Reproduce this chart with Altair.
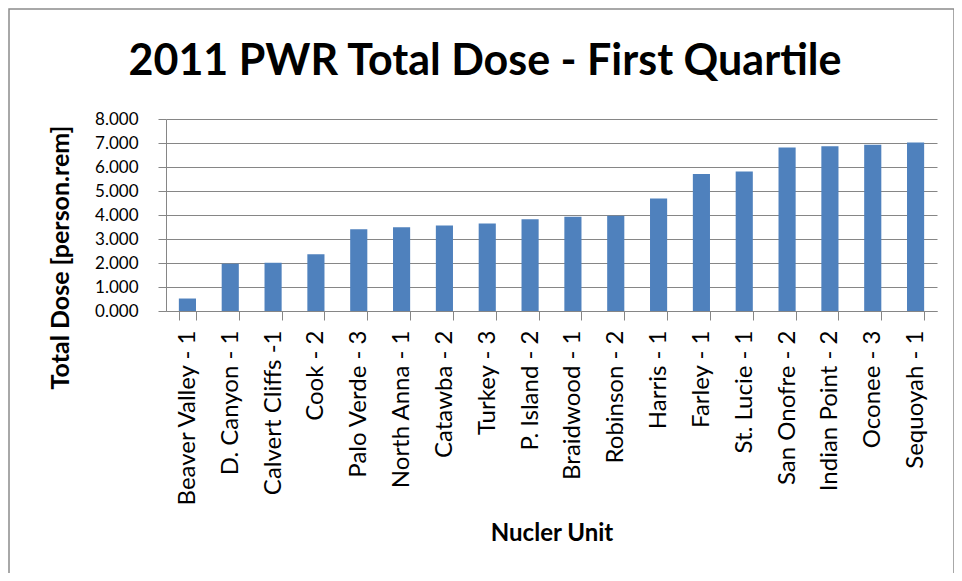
import altair as alt
import pandas as pd

units = ["Beaver Valley - 1", "D. Canyon - 1", "Calvert Cliffs -1", "Cook - 2",
         "Palo Verde - 3", "North Anna - 1", "Catawba - 2", "Turkey - 3",
         "P. Island - 2", "Braidwood - 1", "Robinson - 2", "Harris - 1",
         "Farley - 1", "St. Lucie - 1", "San Onofre - 2", "Indian Point - 2",
         "Oconee - 3", "Sequoyah - 1"]
dose = [0.52, 1.97, 2.01, 2.36, 3.41, 3.49, 3.56, 3.65, 3.82, 3.93, 3.97,
        4.69, 5.71, 5.81, 6.81, 6.86, 6.93, 7.02]
title_text = "2011 PWR Total Dose - First Quartile"

df = pd.DataFrame({"unit": units, "dose": dose})

FONT = "Lato"

bars = alt.Chart(df).mark_bar(color="#4F81BD").encode(
    x=alt.X("unit:N", sort=units,
            scale=alt.Scale(paddingInner=0.6, paddingOuter=0.3),
            axis=alt.Axis(title="Nucler Unit", labelAngle=-90, labelAlign="right",
                          labelBaseline="middle", labelFontSize=24, labelFont=FONT,
                          labelColor="#000000", labelPadding=10,
                          tickBand="extent", tickSize=9, tickColor="#868686",
                          domainColor="#868686", titleFont=FONT, titleFontSize=24,
                          titleFontWeight="bold", titleColor="#000000",
                          titleBaseline="middle", titleY=222)),
    y=alt.Y("dose:Q", scale=alt.Scale(domain=[0, 8], nice=False),
            axis=alt.Axis(title="Total Dose [person.rem]", format=".3f", values=list(range(9)),
                          labelFontSize=17, labelFont=FONT, labelColor="#000000",
                          labelPadding=20,
                          tickSize=8, tickColor="#868686", domainColor="#868686",
                          gridColor="#868686", gridWidth=1, grid=True,
                          titleFont=FONT, titleFontSize=25, titleFontWeight="bold",
                          titleColor="#000000", titleX=-106, titleY=138,
                          titleBaseline="middle")),
)

border = alt.Chart(alt.Data(values=[{}])).mark_rect(
    fill=None, stroke="#8c8c8c", strokeWidth=1.5
).encode(x=alt.value(-157), x2=alt.value(788), y=alt.value(-110), y2=alt.value(457))

title = alt.Chart(alt.Data(values=[{"t": title_text}])).mark_text(
    font=FONT, fontSize=43, fontWeight="bold", color="#000000",
    align="center", baseline="middle"
).encode(text="t:N", x=alt.value(319), y=alt.value(-57))

chart = alt.layer(border, title, bars).properties(
    width=771, height=192,
    autosize=alt.AutoSizeParams(type="none"),
    padding={"left": 158, "top": 111, "right": 17, "bottom": 262},
).configure_view(stroke=None).configure_axisX(grid=False)

chart.save("out.html", embed_options={"renderer": "svg", "actions": False})
